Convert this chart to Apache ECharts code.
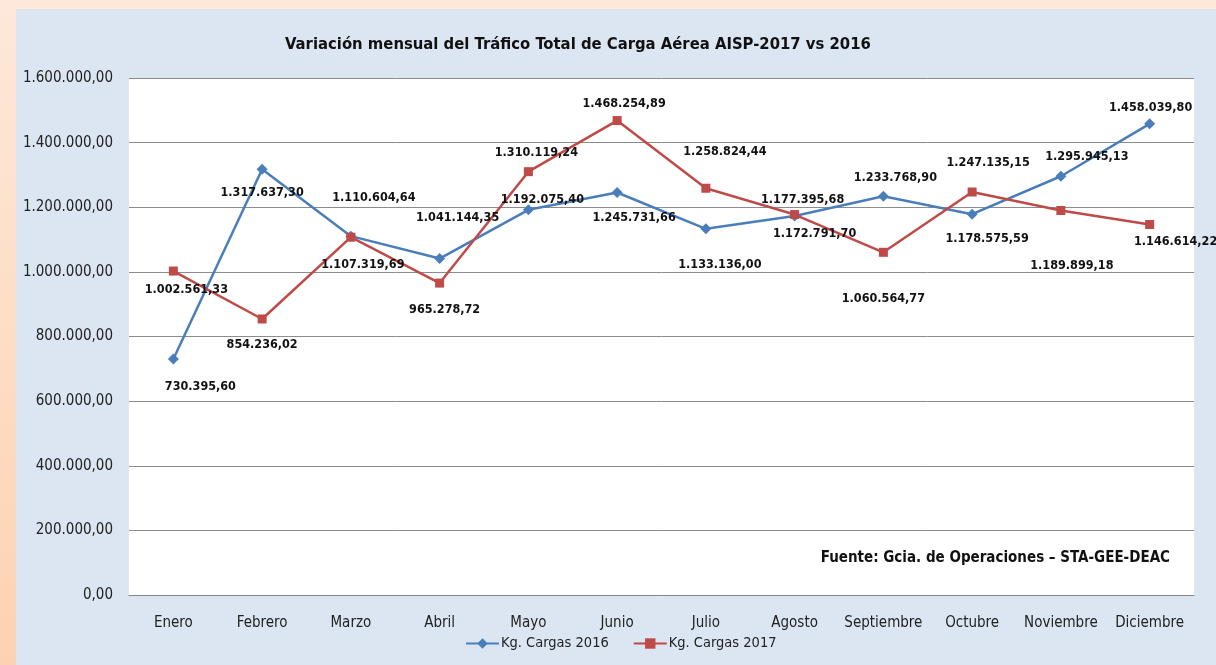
<!DOCTYPE html>
<html>
<head>
<meta charset="utf-8">
<script src="https://cdn.jsdelivr.net/npm/echarts@6/dist/echarts.min.js"></script>
<style>
  html, body { margin: 0; padding: 0; }
  body {
    width: 1216px; height: 665px; overflow: hidden;
    background: linear-gradient(to bottom, #fde8da 0, #fcd3b2 100%);
  }
  .panel {
    position: absolute; left: 16px; top: 9px; right: 0; bottom: 0;
    background: #dce6f2;
  }
  .topband {
    position: absolute; left: 0; top: 0; right: 0; height: 9px;
    background: #fde8da;
  }
  #chart { position: absolute; left: 0; top: 0; width: 1216px; height: 665px; }
</style>
</head>
<body>
<div class="topband"></div>
<div class="panel"></div>
<div id="chart"></div>
<script>
// datos
var meses = ['Enero', 'Febrero', 'Marzo', 'Abril', 'Mayo', 'Junio', 'Julio',
  'Agosto', 'Septiembre', 'Octubre', 'Noviembre', 'Diciembre']
var cargas2016 = [730395.60, 1317637.30, 1110604.64, 1041144.35, 1192075.40, 1245731.66,
  1133136.00, 1172791.70, 1233768.90, 1178575.59, 1295945.13, 1458039.80]
var cargas2017 = [1002561.33, 854236.02, 1107319.69, 965278.72, 1310119.24, 1468254.89,
  1258824.44, 1177395.68, 1060564.77, 1247135.15, 1189899.18, 1146614.22]

// desplazamiento de etiquetas (px)
var off2016 = [[27, 28], [0, 24], [23, -38], [18, -41], [14, -10], [17, 25],
  [14, 36], [20, 18], [12, -19], [15, 25], [26, -19], [1, -16]]
var off2017 = [[13, 19], [0, 26], [12, 28], [5, 27], [8, -19], [7, -17],
  [19, -36], [8, -15], [0, 46], [16, -29], [11, 55], [26, 17]]

var FONT = '"DejaVu Sans Condensed", "Liberation Sans Narrow", sans-serif'

function fmt(v) {
  var p = v.toFixed(2).split('.')
  return p[0].replace(/\B(?=(\d{3})+(?!\d))/g, '.') + ',' + p[1]
}

function puntos(vals, offs) {
  return vals.map(function(v, i) {
    return { value: v, label: { offset: offs[i] } }
  })
}

var chart = echarts.init(document.getElementById('chart'))

var labelStyle = {
  show: true,
  position: 'inside',
  formatter: function(p) { return fmt(p.value) },
  fontFamily: FONT,
  fontWeight: 'bold',
  fontSize: 12.5,
  color: '#111'
}

chart.setOption({
  backgroundColor: 'transparent',
  animation: false,
  textStyle: { fontFamily: FONT },
  title: {
    text: 'Variación mensual del Tráfico Total de Carga Aérea AISP-2017 vs 2016',
    left: 285,
    top: 36,
    padding: 0,
    textStyle: { fontFamily: FONT, fontWeight: 'bold', fontSize: 16.5, color: '#111' }
  },
  legend: {
    left: 465,
    top: 636,
    padding: 0,
    itemWidth: 33,
    itemHeight: 13,
    itemGap: 24,
    textStyle: { fontFamily: FONT, fontSize: 14.5, color: '#222', padding: [0, 0, 0, -3] },
    data: ['Kg. Cargas 2016', 'Kg. Cargas 2017']
  },
  grid: {
    left: 129,
    right: 22,
    top: 78,
    bottom: 70,
    show: true,
    backgroundColor: '#ffffff',
    borderWidth: 0
  },
  xAxis: {
    type: 'category',
    data: meses,
    boundaryGap: true,
    axisLine: { lineStyle: { color: '#868686', width: 1 } },
    axisTick: { show: false },
    axisLabel: { fontFamily: FONT, fontSize: 15, color: '#222', margin: 21, interval: 0 }
  },
  yAxis: {
    type: 'value',
    min: 0,
    max: 1600000,
    interval: 200000,
    axisLine: { show: false },
    axisTick: { show: false },
    splitLine: { lineStyle: { color: '#8c8c8c', width: 1 } },
    axisLabel: {
      fontFamily: FONT, fontSize: 15, color: '#222', margin: 16,
      formatter: function(v) { return fmt(v) }
    }
  },
  graphic: [
    {
      type: 'text',
      x: 1170,
      y: 558,
      style: {
        text: 'Fuente: Gcia. de Operaciones – STA-GEE-DEAC',
        align: 'right',
        verticalAlign: 'middle',
        font: 'bold 15px ' + FONT,
        fill: '#111'
      }
    }
  ],
  series: [
    {
      name: 'Kg. Cargas 2016',
      type: 'line',
      symbol: 'diamond',
      symbolSize: 11,
      itemStyle: { color: '#4a7ebb' },
      lineStyle: { color: '#4a7ebb', width: 2.5 },
      label: labelStyle,
      data: puntos(cargas2016, off2016)
    },
    {
      name: 'Kg. Cargas 2017',
      type: 'line',
      symbol: 'rect',
      symbolSize: 9,
      itemStyle: { color: '#be4b48' },
      lineStyle: { color: '#be4b48', width: 2.5 },
      label: labelStyle,
      data: puntos(cargas2017, off2017)
    }
  ]
})
</script>
</body>
</html>
